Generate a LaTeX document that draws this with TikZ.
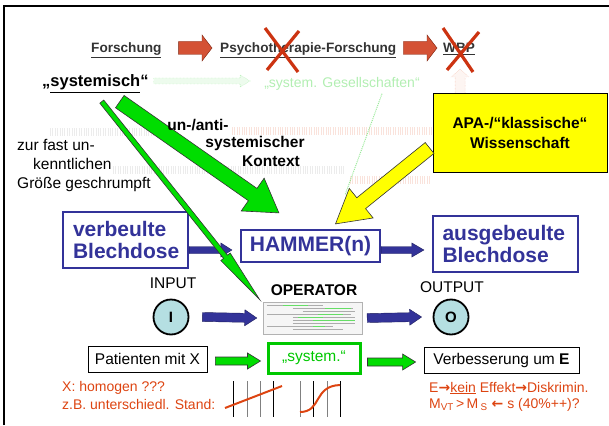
\documentclass[tikz,border=0pt]{standalone}
\usepackage{fontspec}
\setmainfont{Liberation Sans}
\newfontfamily\arrowfont{DejaVu Sans}
\usepackage{tikz}
\usetikzlibrary{calc}

\definecolor{canblue}{HTML}{333399}
\definecolor{hamgreen}{HTML}{00DD00}
\definecolor{sysgreen}{HTML}{00C800}
\definecolor{apayellow}{HTML}{FFFF00}
\definecolor{crossred}{HTML}{CC3311}
\definecolor{notered}{HTML}{DD4411}
\definecolor{ringfill}{HTML}{B5DFE2}
\definecolor{topgray}{HTML}{333333}

\newcommand{\fsz}[2]{\fontsize{#1}{#2}\selectfont}
\newcommand{\ra}{{\arrowfont\bfseries →}}
\newcommand{\la}{{\arrowfont\bfseries ←}}
\newcommand{\blockarrow}[6]{%
	\coordinate (ba-n) at ($(#3)!#6!(#2)$);
	\filldraw[#1] ($(#2)!#4!90:(#3)$) -- ($(ba-n)!#4!90:(#3)$) -- ($(ba-n)!#5!90:(#3)$) -- (#3)
		-- ($(ba-n)!#5!-90:(#3)$) -- ($(ba-n)!#4!-90:(#3)$) -- ($(#2)!#4!-90:(#3)$) -- cycle;
}

\begin{document}
\begin{tikzpicture}[x=1pt,y=-1pt,
		canbox/.style={draw=canblue,line width=2.2pt,text=canblue,font=\fsz{21}{22}\bfseries,inner sep=0pt},
		plainbox/.style={draw,line width=0.8pt,font=\fsz{15.5}{18},inner sep=0pt},
		ring/.style={circle,draw,line width=1.8pt,fill=ringfill,minimum size=35pt,inner sep=0pt,font=\fsz{15}{18}\bfseries},
		lbl/.style={font=\fsz{15.5}{19},inner sep=0pt},
		boldlbl/.style={font=\fsz{15.5}{19}\bfseries,inner sep=0pt},
		toplbl/.style={font=\fsz{13.6}{16}\bfseries,text=topgray,inner sep=0pt,anchor=base west},
		note/.style={font=\fsz{14}{17},text=notered,inner sep=0pt,anchor=base west},
		ghost/.style={opacity=.15,line width=8pt,dash pattern=on 1pt off 1.4pt},
		cross/.style={draw=crossred,line width=3.2pt},
		redarrow/.style={fill=crossred!85,draw=crossred!60!black,line width=.4pt},
		canarrow/.style={fill=canblue,draw=canblue!60!black,line width=.4pt},
		greenarrow/.style={fill=hamgreen,draw=black!80,line width=.6pt},
		yellowarrow/.style={fill=apayellow,draw=black!80,line width=.6pt}]
	
	\useasboundingbox (0,0) rectangle (609,425);
	\draw[line width=2pt] (4,425) -- (4,6) -- (609,6);
	
	\draw[ghost,draw=gray] (50,132) -- (165,132);
	\draw[ghost,draw=notered] (232,131) -- (432,131);
	\draw[ghost,draw=gray] (113,170) -- (345,170);
	\draw[ghost,draw=notered] (350,180) -- (430,180);
	
	\node[toplbl] (forsch) at (91,53) {\underline{Forschung}};
	\node[toplbl] (psych) at (220,53) {\underline{Psychotherapie-Forschung}};
	\node[toplbl] (wbp) at (443,53) {\underline{WBP}};
	\coordinate (f1) at ($(forsch.base east)+(17,-5)$);
	\coordinate (f2) at ($(psych.base west)+(-8,-5)$);
	\coordinate (f3) at ($(psych.base east)+(7,-5)$);
	\coordinate (f4) at ($(wbp.base west)+(-6,-5)$);
	\blockarrow{redarrow}{f1}{f2}{6.5pt}{13pt}{10pt}
	\blockarrow{redarrow}{f3}{f4}{6.5pt}{13pt}{10pt}
	\draw[cross] (265,28) -- (298,72) (299,31) -- (267,70);
	\draw[cross] (443,28) -- (473,72) (479,32) -- (447,70);
	
	\node[font=\fsz{16.5}{19}\bfseries,inner sep=0pt,anchor=base west] (syst) at (42,87) {„\underline{systemisch}“};
	\node[font=\fsz{14}{17},text=sysgreen,opacity=.3,inner sep=0pt] (gesell) at (342,84) {„system. Gesellschaften“};
	\coordinate (gh1) at ($(syst.base east)+(5,-6)$);
	\coordinate (gh2) at ($(gesell.west)+(-14,-3)$);
	\blockarrow{draw=sysgreen,fill=sysgreen!20,densely dotted,opacity=.35}{gh1}{gh2}{3pt}{6pt}{10pt}
	\coordinate (wb1) at ($(wbp.base)+(1,44)$);
	\coordinate (wb2) at ($(wbp.base)+(1,16)$);
	\blockarrow{draw=notered,fill=notered!15,densely dotted,opacity=.35}{wb1}{wb2}{5pt}{9pt}{8pt}
	\draw[sysgreen,densely dotted,opacity=.4,line width=1pt] ($(gesell.south)+(40,3)$) -- (345,195);
	
	\node[draw,line width=.8pt,fill=apayellow,minimum width=174pt,minimum height=79pt,font=\fsz{15.5}{20}\bfseries,align=center,inner sep=0pt] (apa) at (520,133) {APA-/“klassische“\\Wissenschaft};
	\node[lbl,align=left,anchor=north west] (shrunk) at (17,139) {zur fast un-\\\hspace*{16pt}kenntlichen\\Größe geschrumpft};
	
	\node[canbox,minimum width=125pt,minimum height=56pt,text width=105pt,align=left] (dent) at (125.5,240) {verbeulte\\Blechdose};
	\node[canbox,minimum width=139pt,minimum height=32pt] (hammer) at (310.5,246) {HAMMER(n)};
	\node[canbox,minimum width=145pt,minimum height=56pt,text width=126pt,align=left] (fixed) at (505.5,244) {ausgebeulte\\Blechdose};
	\coordinate (d1) at ($(dent.east)+(0,10)$);
	\coordinate (d2) at ($(hammer.west)+(-8,4)$);
	\coordinate (h1) at ($(hammer.east)+(0,4)$);
	\coordinate (h2) at ($(fixed.west)+(-8,6)$);
	\blockarrow{canarrow}{d1}{d2}{3.5pt}{7pt}{11pt}
	\blockarrow{canarrow}{h1}{h2}{3.5pt}{7pt}{12pt}
	
	\node[lbl] (input) at (173,283) {INPUT};
	\node[boldlbl] (operlbl) at (314,290) {OPERATOR};
	\node[lbl] (output) at (452,287) {OUTPUT};
	\node[ring] (inp) at (171,317) {I};
	\node[ring] (outp) at (451,317) {O};
	\node[draw=gray!60,fill=gray!8,minimum width=99pt,minimum height=32pt,inner sep=0pt] (oper) at (312.5,318) {};
	\foreach \r/\a/\b in {0/4/60,1/30/90,2/40/92,3/4/88,4/30/92,5/30/92,6/30/92,7/4/70,8/30/80}
		\draw[gray!65,line width=.9pt] ($(oper.north west)+(\a,4+3*\r)$) -- ($(oper.north west)+(\b,4+3*\r)$);
	\foreach \r/\a/\b in {0/20/45,1/62/88,3/55/80,4/35/60,5/50/92,7/50/62}
		\draw[sysgreen!60,line width=1.3pt] ($(oper.north west)+(\a,4+3*\r)$) -- ($(oper.north west)+(\b,4+3*\r)$);
	\coordinate (i1) at ($(inp.east)+(13,0)$);
	\coordinate (i2) at ($(oper.west)+(-6,0)$);
	\coordinate (o1) at ($(oper.east)+(5,0)$);
	\coordinate (o2) at ($(outp.west)+(-11,0)$);
	\blockarrow{canarrow}{i1}{i2}{4.5pt}{8pt}{12pt}
	\blockarrow{canarrow}{o1}{o2}{4.5pt}{8pt}{12pt}
	
	\node[plainbox,minimum width=119pt,minimum height=26pt] (pat) at (147.5,359) {Patienten mit X};
	\node[draw=sysgreen,line width=3pt,text=sysgreen,minimum width=92pt,minimum height=30pt,inner sep=0pt,font=\fsz{15.5}{18}] (sys) at (314,358) {„system.“};
	\node[plainbox,minimum width=155pt,minimum height=26pt] (gain) at (501.5,360) {Verbesserung um \textbf{E}};
	\coordinate (p1) at ($(pat.east)+(8,2)$);
	\coordinate (p2) at ($(sys.west)+(-6,3)$);
	\coordinate (s1) at ($(sys.east)+(6,4)$);
	\coordinate (s2) at ($(gain.west)+(-8,2)$);
	\blockarrow{greenarrow}{p1}{p2}{4pt}{8pt}{13pt}
	\blockarrow{greenarrow}{s1}{s2}{4pt}{8pt}{13pt}
	
	\node[note] (homog) at (62,391) {X: homogen ???};
	\node[note] (stand) at (62,409) {z.B. unterschiedl. Stand:};
	\node[note] (effect) at (429,392) {E\ra\underline{kein} Effekt\ra Diskrimin.};
	\node[note] (diff) at (429,408) {M\textsubscript{VT}\,>\,M\,\textsubscript{S} \la\ s (40\%++)?};
	\foreach \x/\c in {233/black,247/gray,260/gray,273/black}
		\draw[\c,line width=1pt] (\x,381) -- (\x,417);
	\draw[notered,line width=2pt] (225,408) -- (282,386);
	\foreach \x/\c in {300/gray,313/black,327/gray,340/black}
		\draw[\c,line width=1pt] (\x,381) -- (\x,417);
	\draw[notered,line width=2pt] (300,412) .. controls (322,412) and (313,386) .. (340,385);
	
	\coordinate (g1) at ($(syst.south east)+(-29,9)$);
	\coordinate (g2) at ($(hammer.north west)+(39,-16)$);
	\coordinate (t1) at ($(syst.south east)+(-47,9)$);
	\coordinate (t2) at ($(oper.north west)+(-3,-2)$);
	\coordinate (y1) at ($(apa.west)+(-3,15)$);
	\coordinate (y2) at ($(hammer.north)+(25,-5)$);
	\blockarrow{greenarrow}{t1}{t2}{2.5pt}{6pt}{55pt}
	\blockarrow{greenarrow}{g1}{g2}{7.5pt}{20pt}{32pt}
	\blockarrow{yellowarrow}{y1}{y2}{7pt}{19pt}{33pt}
	
	\node[boldlbl] (ctxa) at (198,125) {un-/anti-};
	\node[boldlbl] (ctxb) at (255,143) {systemischer};
	\node[boldlbl] (ctxc) at (271,161) {Kontext};
\end{tikzpicture}
\end{document}
